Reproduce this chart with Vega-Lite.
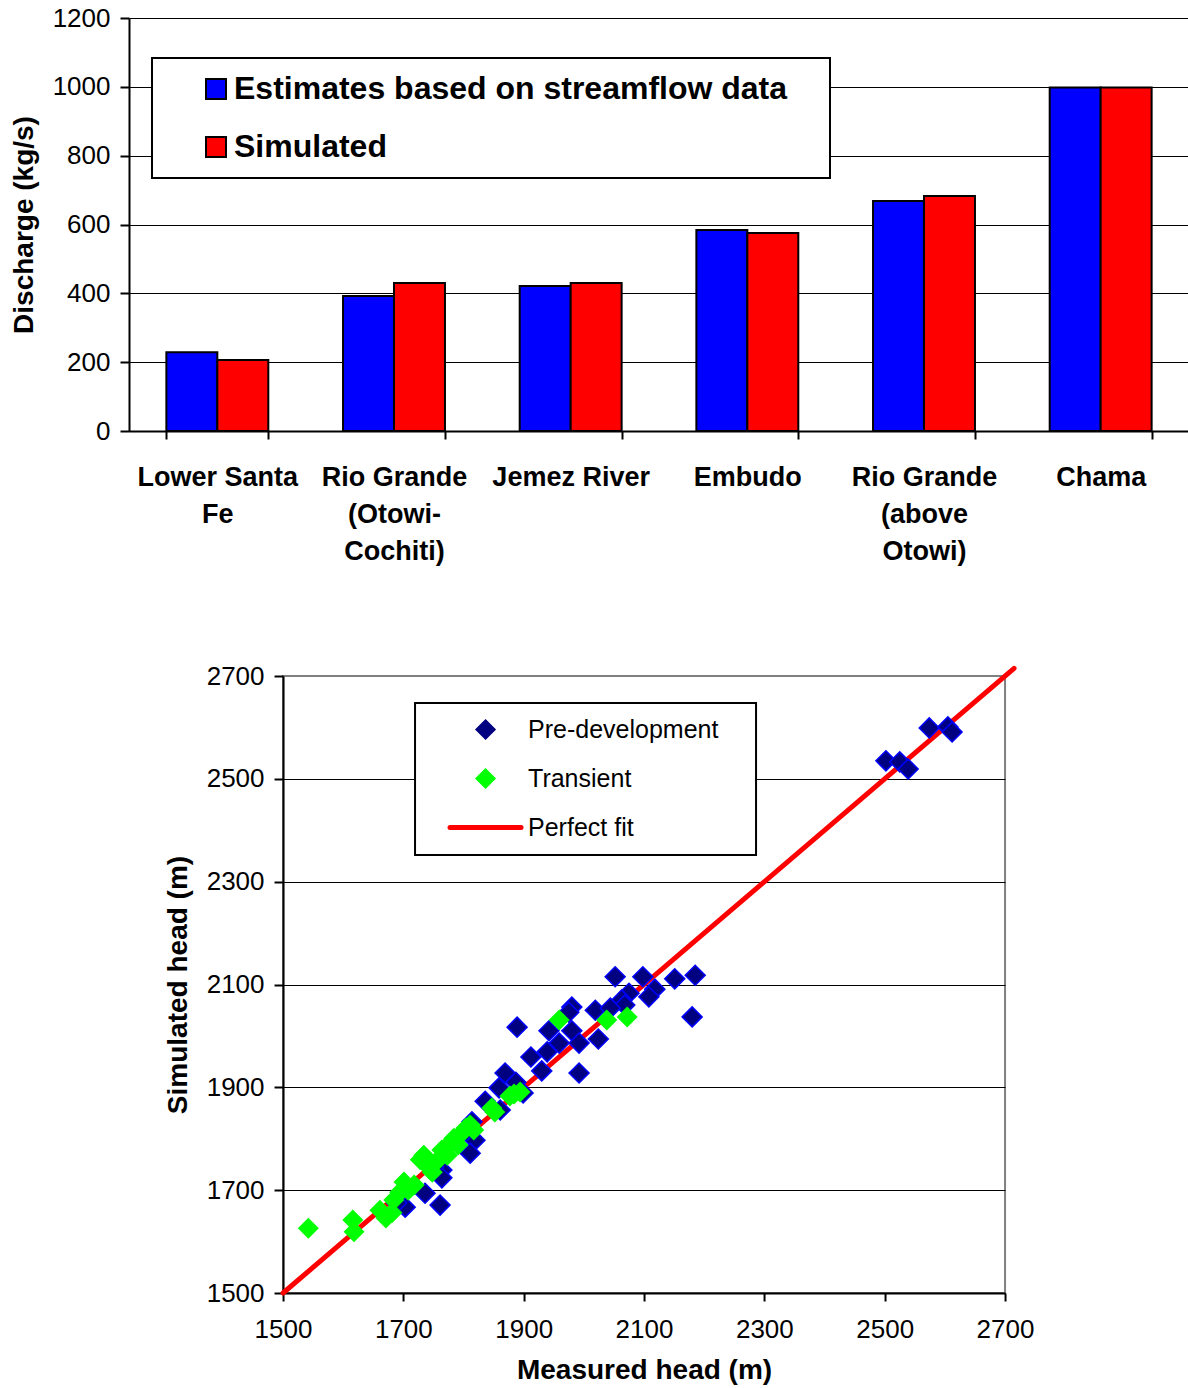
{
  "$schema": "https://vega.github.io/schema/vega-lite/v6.json",
  "background": "white",
  "padding": {"left": 10, "top": 5, "right": 0, "bottom": 0},
  "config": {
    "font": "Liberation Sans",
    "axis": {
      "domainColor": "black", "domainWidth": 2,
      "tickColor": "black", "tickWidth": 2, "tickSize": 9,
      "labelColor": "black", "titleColor": "black",
      "labelFont": "Liberation Sans", "titleFont": "Liberation Sans",
      "gridColor": "black", "gridWidth": 1, "gridOpacity": 1
    },
    "legend": {"labelFont": "Liberation Sans", "labelColor": "black"}
  },
  "datasets": {
    "bars": [
      {"site": "Lower Santa|Fe", "series": "Estimates based on streamflow data", "value": 229},
      {"site": "Lower Santa|Fe", "series": "Simulated", "value": 206},
      {"site": "Rio Grande|(Otowi-|Cochiti)", "series": "Estimates based on streamflow data", "value": 392},
      {"site": "Rio Grande|(Otowi-|Cochiti)", "series": "Simulated", "value": 430},
      {"site": "Jemez River", "series": "Estimates based on streamflow data", "value": 421},
      {"site": "Jemez River", "series": "Simulated", "value": 430},
      {"site": "Embudo", "series": "Estimates based on streamflow data", "value": 584},
      {"site": "Embudo", "series": "Simulated", "value": 575},
      {"site": "Rio Grande|(above|Otowi)", "series": "Estimates based on streamflow data", "value": 668},
      {"site": "Rio Grande|(above|Otowi)", "series": "Simulated", "value": 683},
      {"site": "Chama", "series": "Estimates based on streamflow data", "value": 998},
      {"site": "Chama", "series": "Simulated", "value": 998}
    ],
    "fit": [
      {"series": "Perfect fit", "measured": 1500, "simulated": 1500},
      {"series": "Perfect fit", "measured": 2715, "simulated": 2715}
    ],
    "heads": [
      {"series": "Pre-development", "measured": 2502, "simulated": 2535},
      {"series": "Pre-development", "measured": 2525, "simulated": 2533},
      {"series": "Pre-development", "measured": 2539, "simulated": 2519},
      {"series": "Pre-development", "measured": 2574, "simulated": 2599},
      {"series": "Pre-development", "measured": 2605, "simulated": 2601},
      {"series": "Pre-development", "measured": 2612, "simulated": 2591},
      {"series": "Pre-development", "measured": 2052, "simulated": 2115},
      {"series": "Pre-development", "measured": 2098, "simulated": 2115},
      {"series": "Pre-development", "measured": 2151, "simulated": 2111},
      {"series": "Pre-development", "measured": 2185, "simulated": 2118},
      {"series": "Pre-development", "measured": 2180, "simulated": 2037},
      {"series": "Pre-development", "measured": 2118, "simulated": 2091},
      {"series": "Pre-development", "measured": 2108, "simulated": 2076},
      {"series": "Pre-development", "measured": 2075, "simulated": 2083},
      {"series": "Pre-development", "measured": 2063, "simulated": 2070},
      {"series": "Pre-development", "measured": 2068, "simulated": 2060},
      {"series": "Pre-development", "measured": 2019, "simulated": 2050},
      {"series": "Pre-development", "measured": 2044, "simulated": 2054},
      {"series": "Pre-development", "measured": 1980, "simulated": 2056},
      {"series": "Pre-development", "measured": 1975, "simulated": 2046},
      {"series": "Pre-development", "measured": 1889, "simulated": 2017},
      {"series": "Pre-development", "measured": 1942, "simulated": 2010},
      {"series": "Pre-development", "measured": 1980, "simulated": 2010},
      {"series": "Pre-development", "measured": 1959, "simulated": 1986},
      {"series": "Pre-development", "measured": 1992, "simulated": 1986},
      {"series": "Pre-development", "measured": 2024, "simulated": 1994},
      {"series": "Pre-development", "measured": 1939, "simulated": 1969},
      {"series": "Pre-development", "measured": 1912, "simulated": 1959},
      {"series": "Pre-development", "measured": 1930, "simulated": 1932},
      {"series": "Pre-development", "measured": 1992, "simulated": 1928},
      {"series": "Pre-development", "measured": 1869, "simulated": 1928},
      {"series": "Pre-development", "measured": 1887, "simulated": 1910},
      {"series": "Pre-development", "measured": 1859, "simulated": 1899},
      {"series": "Pre-development", "measured": 1899, "simulated": 1889},
      {"series": "Pre-development", "measured": 1836, "simulated": 1873},
      {"series": "Pre-development", "measured": 1861, "simulated": 1856},
      {"series": "Pre-development", "measured": 1814, "simulated": 1833},
      {"series": "Pre-development", "measured": 1819, "simulated": 1797},
      {"series": "Pre-development", "measured": 1811, "simulated": 1772},
      {"series": "Pre-development", "measured": 1764, "simulated": 1739},
      {"series": "Pre-development", "measured": 1764, "simulated": 1724},
      {"series": "Pre-development", "measured": 1736, "simulated": 1694},
      {"series": "Pre-development", "measured": 1761, "simulated": 1671},
      {"series": "Pre-development", "measured": 1703, "simulated": 1667},
      {"series": "Pre-development", "measured": 1689, "simulated": 1675},
      {"series": "Pre-development", "measured": 1805, "simulated": 1815},
      {"series": "Pre-development", "measured": 1750, "simulated": 1745},
      {"series": "Transient", "measured": 1542, "simulated": 1626},
      {"series": "Transient", "measured": 1616, "simulated": 1642},
      {"series": "Transient", "measured": 1618, "simulated": 1619},
      {"series": "Transient", "measured": 1661, "simulated": 1661},
      {"series": "Transient", "measured": 1671, "simulated": 1646},
      {"series": "Transient", "measured": 1681, "simulated": 1656},
      {"series": "Transient", "measured": 1684, "simulated": 1681},
      {"series": "Transient", "measured": 1694, "simulated": 1696},
      {"series": "Transient", "measured": 1701, "simulated": 1716},
      {"series": "Transient", "measured": 1708, "simulated": 1700},
      {"series": "Transient", "measured": 1718, "simulated": 1710},
      {"series": "Transient", "measured": 1728, "simulated": 1759},
      {"series": "Transient", "measured": 1734, "simulated": 1768},
      {"series": "Transient", "measured": 1739, "simulated": 1749},
      {"series": "Transient", "measured": 1748, "simulated": 1735},
      {"series": "Transient", "measured": 1758, "simulated": 1759},
      {"series": "Transient", "measured": 1764, "simulated": 1778},
      {"series": "Transient", "measured": 1773, "simulated": 1768},
      {"series": "Transient", "measured": 1778, "simulated": 1792},
      {"series": "Transient", "measured": 1784, "simulated": 1801},
      {"series": "Transient", "measured": 1791, "simulated": 1788},
      {"series": "Transient", "measured": 1797, "simulated": 1811},
      {"series": "Transient", "measured": 1804, "simulated": 1821},
      {"series": "Transient", "measured": 1811, "simulated": 1827},
      {"series": "Transient", "measured": 1817, "simulated": 1817},
      {"series": "Transient", "measured": 1847, "simulated": 1860},
      {"series": "Transient", "measured": 1852, "simulated": 1852},
      {"series": "Transient", "measured": 1877, "simulated": 1883},
      {"series": "Transient", "measured": 1884, "simulated": 1887},
      {"series": "Transient", "measured": 1894, "simulated": 1891},
      {"series": "Transient", "measured": 1959, "simulated": 2031},
      {"series": "Transient", "measured": 2038, "simulated": 2031},
      {"series": "Transient", "measured": 2072, "simulated": 2037}
    ]
  },
  "resolve": {"scale": {"color": "independent"}, "legend": {"color": "independent"}},
  "center": true,
  "spacing": 93,
  "vconcat": [
    {
      "width": 1060,
      "height": 413,
      "view": {"stroke": null},
      "data": {"name": "bars"},
      "mark": {"type": "bar", "stroke": "black", "strokeWidth": 2},
      "encoding": {
        "x": {
          "field": "site", "type": "nominal",
          "sort": ["Lower Santa|Fe", "Rio Grande|(Otowi-|Cochiti)", "Jemez River", "Embudo", "Rio Grande|(above|Otowi)", "Chama"],
          "scale": {"paddingInner": 0.423, "paddingOuter": 0.2115},
          "axis": {
            "title": null, "labelAngle": 0, "tickBand": "extent", "tickSize": 8,
            "labelExpr": "split(datum.label, '|')",
            "labelFontSize": 27, "labelFontWeight": "bold", "labelLineHeight": 37,
            "labelPadding": 25, "labelLimit": 400, "labelBaseline": "top", "labelOverlap": false
          }
        },
        "xOffset": {"field": "series", "type": "nominal", "sort": ["Estimates based on streamflow data", "Simulated"]},
        "y": {
          "field": "value", "type": "quantitative",
          "scale": {"domain": [0, 1200], "nice": false},
          "axis": {
            "title": "Discharge (kg/s)", "values": [0, 200, 400, 600, 800, 1000, 1200], "format": "d",
            "grid": true, "labelFontSize": 26, "titleFontSize": 28, "titleFontWeight": "bold",
            "labelPadding": 10, "titlePadding": 14
          }
        },
        "color": {
          "field": "series", "type": "nominal",
          "scale": {"domain": ["Estimates based on streamflow data", "Simulated"], "range": ["#0000ff", "#ff0000"]},
          "legend": {
            "title": " ", "titleOrient": "right", "titleFontSize": 1, "titlePadding": 28,
            "orient": "none", "legendX": 23, "legendY": 40, "direction": "vertical",
            "padding": 15, "symbolOffset": 33, "symbolType": "square", "symbolSize": 400,
            "symbolStrokeColor": "black", "symbolStrokeWidth": 2,
            "labelFontSize": 32, "labelFontWeight": "bold", "labelOffset": 2, "labelLimit": 1000,
            "rowPadding": 26, "strokeColor": "black", "fillColor": "white",
            "encode": {
              "legend": {"update": {"strokeWidth": {"value": 2}}},
              "symbols": {"update": {"stroke": {"value": "black"}, "strokeWidth": {"value": 2}, "opacity": {"value": 1}}}
            }
          }
        }
      }
    },
    {
      "width": 722,
      "height": 617,
      "view": {"stroke": "#808080", "strokeWidth": 2},
      "encoding": {
        "x": {
          "field": "measured", "type": "quantitative",
          "scale": {"domain": [1500, 2700], "nice": false, "zero": false},
          "axis": {
            "title": "Measured head (m)", "values": [1500, 1700, 1900, 2100, 2300, 2500, 2700], "format": "d",
            "grid": false, "labelFlush": false, "labelFontSize": 26, "titleFontSize": 28, "titleFontWeight": "bold",
            "tickSize": 8, "labelPadding": 15, "titlePadding": 14
          }
        },
        "y": {
          "field": "simulated", "type": "quantitative",
          "scale": {"domain": [1500, 2700], "nice": false, "zero": false},
          "axis": {
            "title": "Simulated head (m)", "values": [1500, 1700, 1900, 2100, 2300, 2500, 2700], "format": "d",
            "grid": true, "labelFlush": false,
            "gridColor": {"condition": {"test": "datum.value === 2700", "value": "#808080"}, "value": "black"},
            "labelFontSize": 26, "titleFontSize": 28, "titleFontWeight": "bold",
            "tickSize": 9, "labelPadding": 10, "titlePadding": 14
          }
        },
        "color": {
          "field": "series", "type": "nominal",
          "scale": {"domain": ["Pre-development", "Transient", "Perfect fit"], "range": ["#000080", "#00ff00", "#ff0000"]},
          "legend": {
            "title": " ", "titleOrient": "right", "titleFontSize": 1, "titlePadding": 24,
            "orient": "none", "legendX": 132, "legendY": 27, "direction": "vertical",
            "padding": 14, "symbolOffset": 44, "symbolSize": 300,
            "labelFontSize": 25, "labelOffset": 30, "labelLimit": 1000,
            "rowPadding": 23, "strokeColor": "black", "fillColor": "white",
            "encode": {
              "legend": {"update": {"strokeWidth": {"value": 2}}},
              "symbols": {"update": {
                "shape": {"signal": "datum.value === 'Perfect fit' ? 'stroke' : 'diamond'"},
                "size": {"signal": "datum.value === 'Perfect fit' ? 5041 : 360"},
                "fill": {"signal": "datum.value === 'Pre-development' ? '#000080' : datum.value === 'Transient' ? '#00ff00' : 'transparent'"},
                "stroke": {"signal": "datum.value === 'Pre-development' ? '#0000ff' : datum.value === 'Perfect fit' ? '#ff0000' : 'transparent'"},
                "strokeWidth": {"signal": "datum.value === 'Perfect fit' ? 5 : 1.5"},
                "strokeCap": {"value": "round"},
                "opacity": {"value": 1},
                "fillOpacity": {"value": 1},
                "strokeOpacity": {"value": 1}
              }}
            }
          }
        }
      },
      "layer": [
        {
          "data": {"name": "fit"},
          "mark": {"type": "line", "strokeWidth": 5, "strokeCap": "round", "clip": false}
        },
        {
          "data": {"name": "heads"},
          "transform": [{"filter": "datum.series === 'Pre-development'"}],
          "mark": {"type": "point", "shape": "diamond", "filled": true, "size": 400, "stroke": "#0000ff", "strokeWidth": 1.5, "opacity": 1}
        },
        {
          "data": {"name": "heads"},
          "transform": [{"filter": "datum.series === 'Transient'"}],
          "mark": {"type": "point", "shape": "diamond", "filled": true, "size": 440, "opacity": 1}
        }
      ]
    }
  ]
}
